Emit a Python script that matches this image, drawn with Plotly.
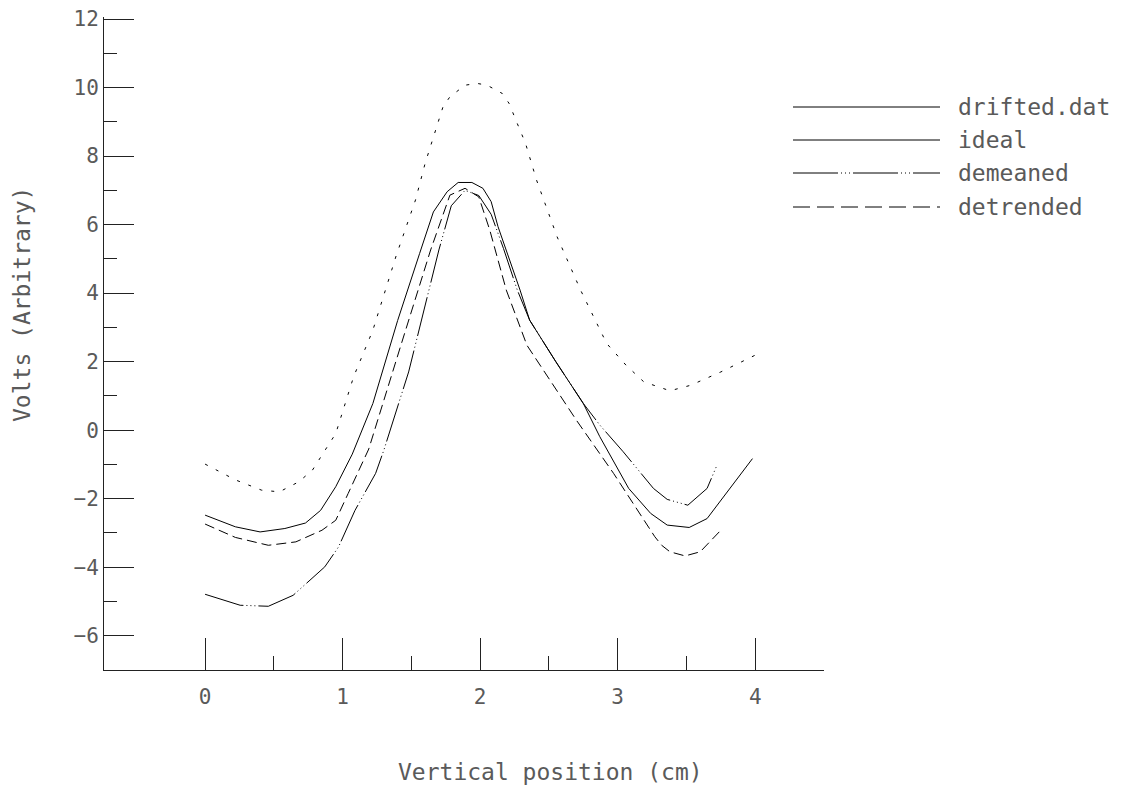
import plotly.graph_objects as go

# ---------------- data ----------------
x_drifted = [0.00, 0.22, 0.41, 0.54, 0.68, 0.78, 0.87, 0.95, 1.08, 1.22, 1.39, 1.53, 1.60,
             1.67, 1.73, 1.78, 1.89, 1.98, 2.05, 2.16, 2.21, 2.27, 2.33, 2.41, 2.56, 2.73,
             2.92, 3.06, 3.19, 3.38, 3.53, 3.75, 4.00]
y_drifted = [-0.99, -1.45, -1.75, -1.80, -1.51, -1.17, -0.60, -0.10, 1.56, 2.92, 5.10, 6.72, 7.79,
             8.70, 9.44, 9.73, 10.07, 10.12, 10.07, 9.83, 9.54, 8.95, 8.37, 7.30, 5.64, 4.09,
             2.53, 1.90, 1.41, 1.15, 1.31, 1.70, 2.19]

x_ideal = [0.00, 0.22, 0.40, 0.58, 0.73, 0.84, 0.95, 1.07, 1.22, 1.40, 1.56, 1.66, 1.76, 1.84,
           1.94, 2.02, 2.08, 2.13, 2.29, 2.36, 2.55, 2.75, 2.87, 3.08, 3.24, 3.36, 3.52, 3.65, 3.98]
y_ideal = [-2.48, -2.82, -2.97, -2.87, -2.71, -2.34, -1.65, -0.70, 0.78, 3.20, 5.16, 6.37, 6.96, 7.23,
           7.23, 7.06, 6.67, 5.94, 4.09, 3.21, 2.00, 0.78, -0.19, -1.70, -2.43, -2.77, -2.84, -2.58, -0.83]

x_demeaned = [0.00, 0.255, 0.46, 0.64, 0.87, 0.97, 1.09, 1.24, 1.30, 1.48, 1.70, 1.79, 1.89, 1.99,
              2.08, 2.17, 2.27, 2.36, 2.55, 2.75, 2.87, 3.04, 3.26, 3.36, 3.51, 3.65, 3.72]
y_demeaned = [-4.79, -5.11, -5.14, -4.82, -3.99, -3.41, -2.34, -1.26, -0.58, 1.70, 5.26, 6.55, 7.00, 6.85,
              6.30, 5.30, 4.09, 3.21, 2.00, 0.78, 0.15, -0.63, -1.70, -2.02, -2.19, -1.70, -1.04]

x_detrended = [0.00, 0.22, 0.46, 0.66, 0.85, 0.95, 1.04, 1.19, 1.42, 1.64, 1.78, 1.89, 1.99, 2.07,
               2.19, 2.34, 2.70, 2.97, 3.27, 3.32, 3.38, 3.49, 3.60, 3.75]
y_detrended = [-2.74, -3.13, -3.36, -3.26, -2.92, -2.63, -1.85, -0.55, 2.43, 5.26, 6.86, 7.06, 6.81, 5.84,
               4.09, 2.48, 0.29, -1.26, -3.11, -3.36, -3.55, -3.67, -3.55, -2.92]

legend_labels = ["drifted.dat", "ideal", "demeaned", "detrended"]

x_tick_vals = [0, 1, 2, 3, 4]
x_tick_text = ["0", "1", "2", "3", "4"]
x_minor_vals = [0.5, 1.5, 2.5, 3.5, 4.5]
y_tick_vals = [-6, -4, -2, 0, 2, 4, 6, 8, 10, 12]
y_tick_text = ["\u22126", "\u22124", "\u22122", "0", "2", "4", "6", "8", "10", "12"]
y_minor_vals = [-5, -3, -1, 1, 3, 5, 7, 9, 11]

x_title = "Vertical position (cm)"
y_title = "Volts (Arbitrary)"

# ---------------- styling ----------------
OFF = 8                      # page body margin compensation
YMIN, YMAX, YPAD = -7, 12, 0.06
SCALE_Y = 651 / (YMAX - YMIN)          # px per volt in the reference
PH = round(SCALE_Y * (YMAX + YPAD - YMIN))
PW = 720
W, H = 1125 - OFF, 794 - OFF
ML = 104 - OFF
BOTTOM = 670 - OFF                      # x-axis line position in figure px
MT = BOTTOM - PH
MR, MB = W - ML - PW, H - BOTTOM
FONT = "DejaVu Sans Mono"
TXT = "#5a5a5a"
AX = "#222222"

def px_to_paper(px, py):
    # px, py are positions in the 1125x794 reference picture
    return (px - OFF - ML) / PW, (BOTTOM - (py - OFF)) / PH

curve_dash = ["3px,9px", "solid", "40px,3px,1px,3px,1px,3px,1px,3px", "10px,5px"]
legend_dash = ["solid", "solid", "45px,3px,1px,3px,1px,3px,1px,3px", "17px,7px"]

series = [(x_drifted, y_drifted), (x_ideal, y_ideal), (x_demeaned, y_demeaned), (x_detrended, y_detrended)]

fig = go.Figure()
for (xs, ys), name, dash in zip(series, legend_labels, curve_dash):
    fig.add_trace(go.Scatter(x=xs, y=ys, mode="lines", name=name,
                             line=dict(color="black", width=1, dash=dash),
                             showlegend=False, hoverinfo="skip"))

# legend drawn as shapes + text
legend_rows_py = [107, 140, 173, 207]
shapes = []
annotations = []
for name, dash, py in zip(legend_labels, legend_dash, legend_rows_py):
    x0, y0 = px_to_paper(793, py)
    x1, _ = px_to_paper(940, py)
    shapes.append(dict(type="line", xref="paper", yref="paper", x0=x0, x1=x1, y0=y0, y1=y0,
                       line=dict(color="black", width=1, dash=dash)))
    tx, ty = px_to_paper(956, py)
    annotations.append(dict(text=name, xref="paper", yref="paper", x=tx, y=ty,
                            xanchor="left", yanchor="middle", showarrow=False,
                            font=dict(family=FONT, size=23, color=TXT)))

ax_x, ax_y = px_to_paper(550, 772)
annotations.append(dict(text=x_title, xref="paper", yref="paper", x=ax_x, y=ax_y,
                        xanchor="center", yanchor="middle", showarrow=False,
                        font=dict(family=FONT, size=23, color=TXT)))
ay_x, ay_y = px_to_paper(22, 305)
annotations.append(dict(text=y_title, xref="paper", yref="paper", x=ay_x, y=ay_y,
                        xanchor="center", yanchor="middle", showarrow=False, textangle=-90,
                        font=dict(family=FONT, size=23, color=TXT)))

fig.update_layout(
    width=W, height=H,
    margin=dict(l=ML, r=MR, t=MT, b=MB, pad=0, autoexpand=False),
    paper_bgcolor="white", plot_bgcolor="white",
    showlegend=False,
    shapes=shapes, annotations=annotations,
    xaxis=dict(range=[-0.735, 4.5001], showgrid=False, zeroline=False,
               showline=True, linecolor=AX, linewidth=1,
               ticks="inside", ticklen=32, tickwidth=1, tickcolor=AX,
               tickmode="array", tickvals=x_tick_vals, ticktext=x_tick_text,
               ticklabelstandoff=8, ticklabeloverflow="allow",
               tickfont=dict(family=FONT, size=21, color=TXT),
               minor=dict(tickmode="array", tickvals=x_minor_vals, ticks="inside",
                          ticklen=14, tickwidth=1, tickcolor=AX, showgrid=False)),
    yaxis=dict(range=[YMIN, YMAX + YPAD], showgrid=False, zeroline=False,
               showline=True, linecolor=AX, linewidth=1,
               ticks="inside", ticklen=30, tickwidth=1, tickcolor=AX,
               tickmode="array", tickvals=y_tick_vals, ticktext=y_tick_text,
               ticklabelstandoff=0, ticklabeloverflow="allow",
               tickfont=dict(family=FONT, size=21, color=TXT),
               minor=dict(tickmode="array", tickvals=y_minor_vals, ticks="inside",
                          ticklen=13, tickwidth=1, tickcolor=AX, showgrid=False)),
)

fig.write_html("out.html")
